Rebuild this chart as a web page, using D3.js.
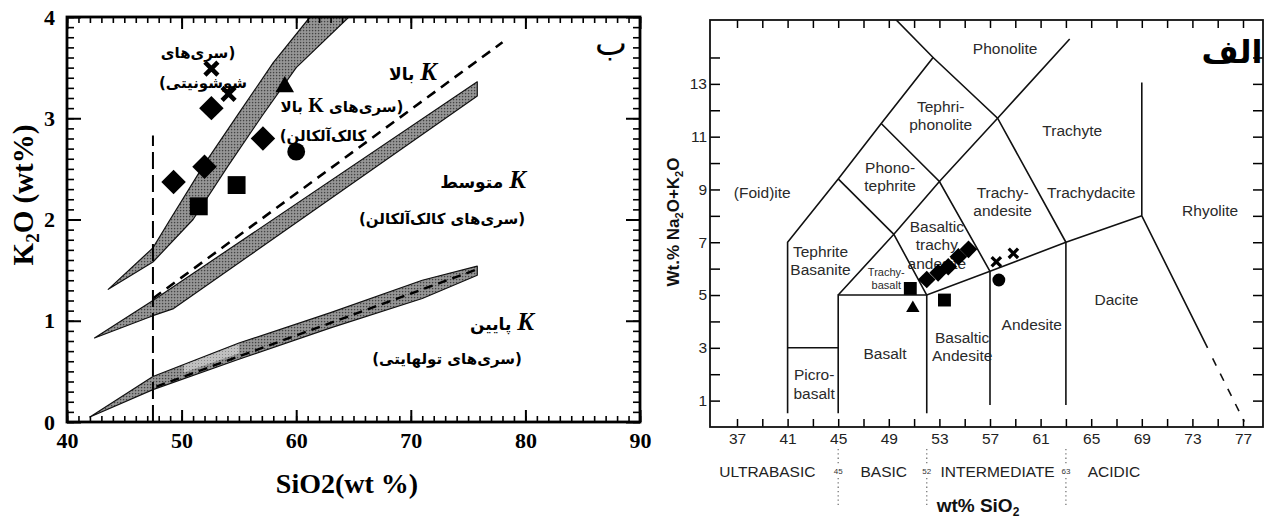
<!DOCTYPE html>
<html><head><meta charset="utf-8">
<script src="https://cdn.jsdelivr.net/npm/d3@7"></script>
<style>body{margin:0;background:#fff;} svg{display:block}</style>
</head><body>
<svg id="c" width="1274" height="518"></svg>
<script>
// ================= LEFT PANEL (K2O vs SiO2) =================
const kXMajor = [40, 50, 60, 70, 80, 90];
const kYMajor = [0, 1, 2, 3, 4];
const shoshUpper = [[43.6,1.31],[47.5,1.72],[49,2.0],[52,2.55],[55,3.05],[58,3.55],[61.2,4.0]];
const shoshLower = [[43.6,1.31],[47.5,1.58],[51,2.0],[54,2.52],[57,3.02],[60,3.5],[64.6,4.0]];
const calcUpper = [[42.4,0.83],[47.5,1.2],[75.8,3.36]];
const calcLower = [[42.4,0.83],[47.5,1.05],[49.3,1.12],[75.8,3.22]];
const calcDash = [[47.5,1.22],[78,3.75]];
const tholUpper = [[42,0.05],[47.5,0.45],[55,0.78],[63,1.08],[71,1.4],[75.8,1.54]];
const tholLower = [[42,0.05],[47.5,0.32],[55,0.62],[63,0.93],[71,1.22],[75.8,1.45]];
const tholLight = [[50.2,0.56],[55,0.77],[55,0.68],[50.2,0.49]];
const tholDash = [[47.8,0.35],[75.6,1.5]];
const basicLimit = [[47.5,0],[47.5,2.83]];
const kPoints = [
  {s:'cross', x:52.6, y:3.49}, {s:'cross', x:54.1, y:3.24},
  {s:'diamond', x:52.6, y:3.10}, {s:'diamond', x:57.1, y:2.80},
  {s:'diamond', x:52.0, y:2.52}, {s:'diamond', x:49.3, y:2.37},
  {s:'square', x:54.8, y:2.34}, {s:'square', x:51.5, y:2.13},
  {s:'triangle', x:59.0, y:3.31}, {s:'circle', x:60.0, y:2.67}
];

// ================= RIGHT PANEL (TAS) =================
const tasXTicks = [37,39,41,43,45,47,49,51,53,55,57,59,61,63,65,67,69,71,73,75,77];
const tasXLabels = [37,41,45,49,53,57,61,65,69,73,77];
const tasYTicks = [1,2,3,4,5,6,7,8,9,10,11,12,13,14];
const tasYLabels = [1,3,5,7,9,11,13];
const tasLines = [
  [[41,0.52],[41,7],[45,9.4],[48.4,11.5],[52.5,14],[48.4,16]],
  [[41,3],[45,3]],
  [[45,0.52],[45,5],[52,5],[57,5.9],[63,7],[69,8]],
  [[52,0.52],[52,5]],
  [[57,0.83],[57,5.9]],
  [[63,0.83],[63,7]],
  [[45,5],[49.4,7.3],[52,5]],
  [[45,9.4],[49.4,7.3]],
  [[48.4,11.5],[53,9.3],[57,5.9]],
  [[49.4,7.3],[53,9.3],[57.6,11.7],[63.3,14.7]],
  [[52.5,14],[57.6,11.7],[63,7]],
  [[69,13.05],[69,8],[74.2,3.0]]
];
const tasDashed = [[74.6,2.6],[77.1,0.2]];
const tasFields = [
  {t:['Phonolite'], x:58.2, y:14.35, f:15.5},
  {t:['Tephri-','phonolite'], x:53.1, y:11.8, f:15.5},
  {t:['Phono-','tephrite'], x:49.1, y:9.5, f:15.5},
  {t:['(Foid)ite'], x:39.0, y:8.9, f:15.5},
  {t:['Trachyte'], x:63.5, y:11.25, f:15.5},
  {t:['Trachy-','andesite'], x:58.0, y:8.55, f:15.5},
  {t:['Trachydacite'], x:65.0, y:8.9, f:15.5},
  {t:['Rhyolite'], x:74.4, y:8.2, f:15.5},
  {t:['Tephrite','Basanite'], x:43.6, y:6.3, f:15.5},
  {t:['Trachy-','basalt'], x:48.8, y:5.62, f:11},
  {t:['Basaltic','trachy','andesite'], x:52.8, y:6.9, f:15.5},
  {t:['Basalt'], x:48.7, y:2.8, f:15.5},
  {t:['Picro-','basalt'], x:43.1, y:1.63, f:15.5},
  {t:['Basaltic','Andesite'], x:54.8, y:3.05, f:15.5},
  {t:['Andesite'], x:60.3, y:3.9, f:15.5},
  {t:['Dacite'], x:67.0, y:4.85, f:15.5}
];
const tasPoints = [
  {s:'diamond', x:52.0, y:5.59}, {s:'diamond', x:52.9, y:5.84}, {s:'diamond', x:53.7, y:6.07},
  {s:'diamond', x:54.5, y:6.45}, {s:'diamond', x:55.3, y:6.73},
  {s:'square', x:50.7, y:5.25}, {s:'square', x:53.4, y:4.81},
  {s:'triangle', x:50.9, y:4.5}, {s:'circle', x:57.7, y:5.57},
  {s:'cross', x:57.5, y:6.26}, {s:'cross', x:58.85, y:6.58}
];
const rockClasses = [
  {t:'ULTRABASIC', x:39.4}, {t:'BASIC', x:48.6}, {t:'INTERMEDIATE', x:57.6}, {t:'ACIDIC', x:66.8}
];
const classLimits = [45, 52, 63];

// ================= DRAW =================
const svg = d3.select('#c');
const defs = svg.append('defs');
const pat = defs.append('pattern').attr('id','stip').attr('patternUnits','userSpaceOnUse')
  .attr('width',3).attr('height',3);
pat.append('rect').attr('width',3).attr('height',3).attr('fill','#8e8e8e');
pat.append('rect').attr('x',0).attr('y',0).attr('width',1.2).attr('height',1.2).attr('fill','#444');
pat.append('rect').attr('x',1.5).attr('y',1.5).attr('width',1).attr('height',1).attr('fill','#b0b0b0');
const pat2 = defs.append('pattern').attr('id','stipL').attr('patternUnits','userSpaceOnUse')
  .attr('width',3).attr('height',3);
pat2.append('rect').attr('width',3).attr('height',3).attr('fill','#c0c0c0');
pat2.append('rect').attr('width',1).attr('height',1).attr('fill','#8a8a8a');

// ---- left panel ----
const L = {x0:67, x1:640, y0:17, y1:422};
const lx = d3.scaleLinear().domain([40,90]).range([L.x0, L.x1]);
const ly = d3.scaleLinear().domain([0,4]).range([L.y1, L.y0]);
defs.append('clipPath').attr('id','clipL').append('rect')
  .attr('x',L.x0).attr('y',L.y0).attr('width',L.x1-L.x0).attr('height',L.y1-L.y0);
const gl = svg.append('g');
const serif = "'Liberation Serif','DejaVu Serif',serif";
const fa = "'DejaVu Sans',sans-serif";

const line = (sx, sy) => d3.line().x(d=>sx(d[0])).y(d=>sy(d[1]));
const bandPath = (up, lo) => line(lx,ly)(up.concat(lo.slice().reverse())) + 'Z';
const gb = gl.append('g').attr('clip-path','url(#clipL)');
[[shoshUpper,shoshLower],[calcUpper,calcLower],[tholUpper,tholLower]].forEach(([u,l])=>{
  gb.append('path').attr('d', bandPath(u,l)).attr('fill','url(#stip)')
    .attr('stroke','#111').attr('stroke-width',1.2).attr('stroke-linejoin','round');
});
gb.append('path').attr('d', line(lx,ly)(tholLight)+'Z').attr('fill','url(#stipL)');
gb.append('path').attr('d', line(lx,ly)(calcDash)).attr('fill','none').attr('stroke','#000')
  .attr('stroke-width',2.6).attr('stroke-dasharray','10,7');
gb.append('path').attr('d', line(lx,ly)(tholDash)).attr('fill','none').attr('stroke','#000')
  .attr('stroke-width',2.4).attr('stroke-dasharray','9,6');
gb.append('path').attr('d', line(lx,ly)(basicLimit)).attr('fill','none').attr('stroke','#000')
  .attr('stroke-width',2).attr('stroke-dasharray','17,6');

// axes left
const axStyle = (g, w) => { g.select('.domain').remove(); g.selectAll('line').attr('stroke','#000').attr('stroke-width',w); };
const minorX = d3.range(40,91,1), minorY = d3.range(0,4.001,0.1);
gl.append('g').attr('transform',`translate(0,${L.y1})`).call(d3.axisBottom(lx).tickValues(minorX).tickSize(-6).tickFormat('')).call(axStyle,1.6);
gl.append('g').attr('transform',`translate(0,${L.y1})`).call(d3.axisBottom(lx).tickValues(kXMajor).tickSize(-12).tickPadding(10).tickFormat(d3.format('d')))
  .call(axStyle,2).call(g=>g.selectAll('text').attr('font-family',serif).attr('font-weight','bold').attr('font-size',22).attr('fill','#000'));
gl.append('g').attr('transform',`translate(0,${L.y0})`).call(d3.axisTop(lx).tickValues(minorX).tickSize(-6).tickFormat('')).call(axStyle,1.6);
gl.append('g').attr('transform',`translate(0,${L.y0})`).call(d3.axisTop(lx).tickValues(kXMajor).tickSize(-12).tickFormat('')).call(axStyle,2);
gl.append('g').attr('transform',`translate(${L.x0},0)`).call(d3.axisLeft(ly).tickValues(minorY).tickSize(-7).tickFormat('')).call(axStyle,1.6);
gl.append('g').attr('transform',`translate(${L.x0},0)`).call(d3.axisLeft(ly).tickValues(kYMajor).tickSize(-14).tickPadding(12).tickFormat(d3.format('d')))
  .call(axStyle,2).call(g=>g.selectAll('text').attr('font-family',serif).attr('font-weight','bold').attr('font-size',22).attr('fill','#000'));
gl.append('g').attr('transform',`translate(${L.x1},0)`).call(d3.axisRight(ly).tickValues(minorY).tickSize(-7).tickFormat('')).call(axStyle,1.6);
gl.append('g').attr('transform',`translate(${L.x1},0)`).call(d3.axisRight(ly).tickValues(kYMajor).tickSize(-14).tickFormat('')).call(axStyle,2);
gl.append('rect').attr('x',L.x0).attr('y',L.y0).attr('width',L.x1-L.x0).attr('height',L.y1-L.y0)
  .attr('fill','none').attr('stroke','#000').attr('stroke-width',2.8);

// markers
function marker(g, d, sx, sy, sc) {
  const cx = sx(d.x), cy = sy(d.y);
  const gg = g.append('g').attr('transform',`translate(${cx},${cy})`);
  if (d.s==='diamond') gg.append('path').attr('d', d3.symbol(d3.symbolSquare, 300*sc*sc)()).attr('transform','rotate(45)').attr('fill','#000');
  else if (d.s==='square') gg.append('path').attr('d', d3.symbol(d3.symbolSquare, 320*sc*sc)()).attr('fill','#000');
  else if (d.s==='circle') gg.append('path').attr('d', d3.symbol(d3.symbolCircle, 250*sc*sc)()).attr('fill','#000');
  else if (d.s==='triangle') gg.append('path').attr('d', d3.symbol(d3.symbolTriangle, 150*sc*sc)()).attr('fill','#000');
  else if (d.s==='cross') { const r = 6.5*sc; gg.append('path').attr('d',`M${-r},${-r}L${r},${r}M${-r},${r}L${r},${-r}`).attr('stroke','#000').attr('stroke-width',4.5*sc); }
}
kPoints.forEach(d=>marker(gl, d, lx, ly, 1));

// axis titles left
const yt = gl.append('text').attr('transform','translate(33,195) rotate(-90)').attr('text-anchor','middle')
  .attr('font-family',serif).attr('font-weight','bold').attr('font-size',29).attr('fill','#000');
yt.append('tspan').text('K');
yt.append('tspan').text('2').attr('font-size',19).attr('dy',6);
yt.append('tspan').text('O (wt%)').attr('dy',-6);
gl.append('text').attr('x',347).attr('y',493).attr('text-anchor','middle').attr('font-family',serif)
  .attr('font-weight','bold').attr('font-size',28).text('SiO2(wt %)');

// Persian labels
function faText(g, x, y, parts, size) {
  const t = g.append('text').attr('x',x).attr('y',y).attr('direction','rtl').attr('text-anchor','middle')
    .attr('font-family',fa).attr('font-weight','bold').attr('font-size',size).attr('fill','#000');
  parts.forEach(p=>{
    const s = t.append('tspan').text(p.t);
    if (p.k) s.attr('font-family',serif).attr('font-size',p.k).attr('font-style',p.i?'italic':'normal');
  });
  return t;
}
faText(gl, 198, 58, [{t:'(سری‌های'}], 15);
faText(gl, 203, 88, [{t:'شوشونیتی)'}], 15);
faText(gl, 413, 80, [{t:'K', k:25, i:true},{t:' بالا'}], 17);
faText(gl, 342, 112, [{t:'(سری‌های '},{t:'K', k:20},{t:' بالا'}], 15);
faText(gl, 323, 141, [{t:'کالک‌آلکالن)'}], 15);
faText(gl, 483, 188, [{t:'K', k:25, i:true},{t:' متوسط'}], 17);
faText(gl, 442, 224, [{t:'(سری‌های کالک‌آلکالن)'}], 15);
faText(gl, 502, 330, [{t:'K', k:25, i:true},{t:' پایین'}], 17);
faText(gl, 447, 364, [{t:'(سری‌های تولهایتی)'}], 15);
gl.append('text').attr('x',611).attr('y',55).attr('text-anchor','middle').attr('font-family',fa)
  .attr('font-size',34).text('ب');

// ---- right panel ----
const R = {x0:710, x1:1263, y0:20, y1:427};
const tx = d3.scaleLinear().domain([37,77]).range([737,1243]);
const ty = d3.scaleLinear().domain([0,15.42]).range([R.y1, R.y0]);
defs.append('clipPath').attr('id','clipR').append('rect')
  .attr('x',R.x0).attr('y',R.y0).attr('width',R.x1-R.x0).attr('height',R.y1-R.y0);
const gr = svg.append('g');
const sans = "'Liberation Sans',Arial,sans-serif";
const gline = gr.append('g').attr('clip-path','url(#clipR)');
tasLines.forEach(l=>gline.append('path').attr('d',line(tx,ty)(l)).attr('fill','none')
  .attr('stroke','#111').attr('stroke-width',1.6).attr('stroke-linejoin','miter'));
gline.append('path').attr('d',line(tx,ty)(tasDashed)).attr('fill','none').attr('stroke','#111')
  .attr('stroke-width',1.6).attr('stroke-dasharray','8,9');

gr.append('g').attr('transform',`translate(0,${R.y1})`).call(d3.axisBottom(tx).tickValues(tasXTicks).tickSize(-8).tickFormat('')).call(axStyle,1.5);
gr.append('g').attr('transform',`translate(0,${R.y1})`).call(d3.axisBottom(tx).tickValues(tasXLabels).tickSize(0).tickPadding(6).tickFormat(d3.format('d')))
  .call(g=>g.select('.domain').remove()).call(g=>g.selectAll('text').attr('font-family',sans).attr('font-size',15.5).attr('fill','#222'));
gr.append('g').attr('transform',`translate(0,${R.y0})`).call(d3.axisTop(tx).tickValues(tasXTicks).tickSize(-8).tickFormat('')).call(axStyle,1.5);
gr.append('g').attr('transform',`translate(${R.x0},0)`).call(d3.axisLeft(ty).tickValues(tasYTicks).tickSize(-10).tickFormat('')).call(axStyle,1.5);
gr.append('g').attr('transform',`translate(${R.x0},0)`).call(d3.axisLeft(ty).tickValues(tasYLabels).tickSize(0).tickPadding(3).tickFormat(d3.format('d')))
  .call(g=>g.select('.domain').remove()).call(g=>g.selectAll('text').attr('font-family',sans).attr('font-size',15.5).attr('fill','#222'));
gr.append('g').attr('transform',`translate(${R.x1},0)`).call(d3.axisRight(ty).tickValues(tasYTicks).tickSize(-10).tickFormat('')).call(axStyle,1.5);
gr.append('rect').attr('x',R.x0).attr('y',R.y0).attr('width',R.x1-R.x0).attr('height',R.y1-R.y0)
  .attr('fill','none').attr('stroke','#111').attr('stroke-width',1.8);

// field names
tasFields.forEach(f=>{
  const n = f.t.length, lh = f.f*1.18;
  const t = gr.append('text').attr('text-anchor','middle').attr('font-family',sans)
    .attr('font-size',f.f).attr('fill','#2a2a2a');
  f.t.forEach((s,i)=>t.append('tspan').attr('x',tx(f.x)).attr('y',ty(f.y) + f.f*0.36 + (i-(n-1)/2)*lh).text(s));
});
tasPoints.forEach(d=>marker(gr, d, tx, ty, 0.72));

// y title
const yt2 = gr.append('text').attr('transform','translate(679,222) rotate(-90)').attr('text-anchor','middle')
  .attr('font-family',sans).attr('font-weight','bold').attr('font-size',17).attr('fill','#111');
yt2.append('tspan').text('Wt.% Na');
yt2.append('tspan').text('2').attr('font-size',11).attr('dy',4);
yt2.append('tspan').text('O+K').attr('dy',-4);
yt2.append('tspan').text('2').attr('font-size',11).attr('dy',4);
yt2.append('tspan').text('O').attr('dy',-4);

// rock classes
rockClasses.forEach(c=>gr.append('text').attr('x',tx(c.x)).attr('y',477).attr('text-anchor','middle')
  .attr('font-family',sans).attr('font-size',15.5).attr('fill','#222').text(c.t));
classLimits.forEach(v=>{
  gr.append('line').attr('x1',tx(v)).attr('x2',tx(v)).attr('y1',449).attr('y2',464)
    .attr('stroke','#777').attr('stroke-width',1.3).attr('stroke-dasharray','1.3,3');
  gr.append('line').attr('x1',tx(v)).attr('x2',tx(v)).attr('y1',478).attr('y2',506)
    .attr('stroke','#777').attr('stroke-width',1.3).attr('stroke-dasharray','1.3,3');
  gr.append('text').attr('x',tx(v)).attr('y',474).attr('text-anchor','middle').attr('font-family',sans)
    .attr('font-size',8).attr('fill','#333').text(d3.format('d')(v));
});
const xt2 = gr.append('text').attr('x',978).attr('y',512).attr('text-anchor','middle')
  .attr('font-family',sans).attr('font-weight','bold').attr('font-size',19).attr('fill','#111');
xt2.append('tspan').text('wt% SiO');
xt2.append('tspan').text('2').attr('font-size',12).attr('dy',4);

gr.append('text').attr('x',1232).attr('y',63).attr('text-anchor','middle').attr('font-family',fa)
  .attr('font-weight','bold').attr('font-size',32).attr('fill','#000').text('الف');
</script>
</body></html>
